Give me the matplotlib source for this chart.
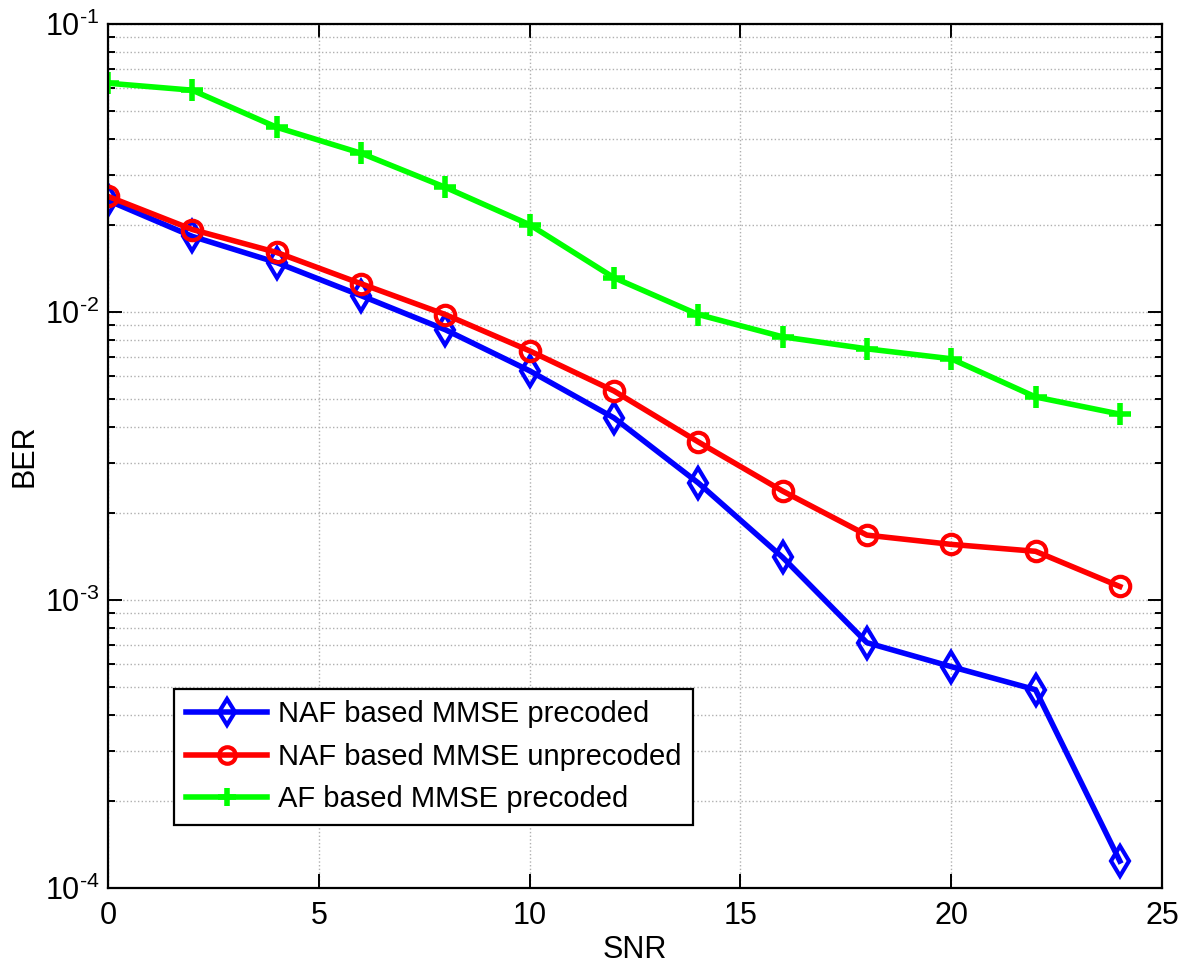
import matplotlib
matplotlib.use("Agg")
import matplotlib.pyplot as plt
from matplotlib.ticker import LogLocator, NullFormatter, FixedLocator, FuncFormatter
import numpy as np

plt.rcParams['font.family'] = ['Liberation Sans', 'DejaVu Sans']
plt.rcParams['mathtext.fontset'] = 'custom'
plt.rcParams['mathtext.rm'] = 'Liberation Sans'
plt.rcParams['mathtext.it'] = 'Liberation Sans:italic'

snr = [0, 2, 4, 6, 8, 10, 12, 14, 16, 18, 20, 22, 24]
ber_naf_pre = [0.0244, 0.0183, 0.01485, 0.0114, 0.00868, 0.00625, 0.00429,
               0.00255, 0.001407, 0.000711, 0.000587, 0.000488, 0.000124]
ber_naf_unpre = [0.0252, 0.01934, 0.0161, 0.01254, 0.0098, 0.00733, 0.00532,
                 0.00354, 0.00239, 0.00168, 0.00156, 0.001476, 0.001114]
ber_af_pre = [0.0623, 0.0589, 0.0438, 0.0356, 0.0271, 0.0201, 0.01316,
              0.0098, 0.0082, 0.00745, 0.00688, 0.00507, 0.00442]
labels = ["NAF based MMSE precoded", "NAF based MMSE unprecoded", "AF based MMSE precoded"]

fig = plt.figure(figsize=(11.81, 9.68), dpi=100)
ax = fig.add_axes([108 / 1181, 1 - 888 / 968, (1162 - 108) / 1181, (888 - 24) / 968])

ax.semilogy(snr, ber_naf_pre, color='#0000ff', lw=4, marker='d', ms=15,
            mfc='none', mew=3, label=labels[0])
ax.semilogy(snr, ber_naf_unpre, color='#ff0000', lw=4, marker='o', ms=14,
            mfc='none', mew=3, label=labels[1])
ax.semilogy(snr, ber_af_pre, color='#00ff00', lw=4, marker='+', ms=16,
            mew=4, label=labels[2])

ax.set_xlim(0, 25)
ax.set_ylim(1e-4, 1e-1)
ax.xaxis.set_major_locator(FixedLocator([0, 5, 10, 15, 20, 25]))
ax.yaxis.set_major_locator(LogLocator(base=10))
ax.yaxis.set_minor_locator(LogLocator(base=10, subs=range(2, 10)))
ax.yaxis.set_minor_formatter(NullFormatter())
ax.yaxis.set_major_formatter(FuncFormatter(
    lambda v, p: r'$\mathregular{10^{\text{-}%d}}$' % round(-np.log10(v))))

ax.grid(True, which='major', axis='both', color='#b0b0b0', ls=':', lw=1)
ax.grid(True, which='minor', axis='y', color='#b0b0b0', ls=':', lw=1)

ax.tick_params(which='both', direction='in', top=True, right=True, labelsize=22)
ax.tick_params(which='major', length=10, width=1.4)
ax.tick_params(which='minor', length=5, width=1.4)
ax.tick_params(axis='x', pad=9)
ax.tick_params(axis='y', pad=6)
for s in ax.spines.values():
    s.set_linewidth(1.6)

ax.set_xlabel("SNR", fontsize=22, labelpad=3)
ax.set_ylabel("BER", fontsize=22, labelpad=4)

leg = ax.legend(loc='lower left', bbox_to_anchor=(66 / 1054, 63 / 864), borderaxespad=0,
                fontsize=21, fancybox=False, framealpha=1, edgecolor='black',
                handlelength=2.8, markerscale=0.85, borderpad=0.4,
                labelspacing=0.5, handletextpad=0.35)
leg.get_frame().set_linewidth(1.6)

fig.savefig("out.png", dpi=100)
